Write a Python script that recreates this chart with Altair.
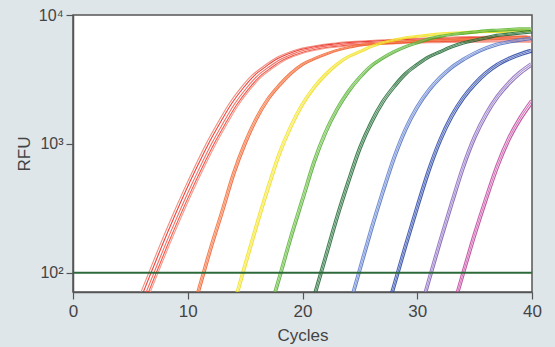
import altair as alt
import pandas as pd

# ---- data (RFU at integer cycles) ----
red_start = 5
red_rfu = [36, 60, 100, 166, 269, 427, 661, 1000, 1445, 2040, 2690, 3390, 3980, 4570,
           5010, 5370, 5620, 5820, 5960, 6100, 6170, 6240, 6310, 6370, 6430, 6490,
           6530, 6580, 6610, 6650, 6680, 6700, 6720, 6740, 6750, 6760]
orange_start = 10
orange_rfu = [37, 76, 155, 300, 590, 1020, 1590, 2240, 2880, 3550, 4170, 4600, 5000,
              5370, 5650, 5880, 6000, 6100, 6170, 6270, 6350, 6420, 6460, 6500, 6560,
              6600, 6650, 6700, 6750, 6800, 6850]
yellow_start = 13
yellow_rfu = [28, 56, 115, 234, 457, 851, 1380, 2040, 2750, 3470, 4170, 4790, 5250,
              5750, 6170, 6460, 6760, 6920, 7080, 7240, 7330, 7410, 7500, 7590, 7590,
              7670, 7760, 7760]
lgreen_start = 16
lgreen_rfu = [22, 46, 93, 191, 372, 724, 1230, 1860, 2570, 3310, 4070, 4680, 5250,
              5750, 6170, 6610, 6920, 7160, 7330, 7500, 7670, 7760, 7850, 7940, 7940]
dgreen_start = 19
dgreen_rfu = [15, 32, 65, 132, 269, 513, 933, 1480, 2140, 2820, 3550, 4170, 4790,
              5250, 5750, 6170, 6460, 6760, 7080, 7240, 7410, 7590]
lblue_start = 22
lblue_rfu = [13, 26, 52, 107, 219, 427, 794, 1320, 1950, 2630, 3310, 3980, 4570, 5130,
             5620, 6030, 6310, 6530, 6760]
dblue_start = 26
dblue_rfu = [19, 40, 81, 165, 326, 625, 1080, 1660, 2300, 2950, 3600, 4190, 4660,
             5060, 5410]
purple_start = 29
purple_rfu = [21, 42, 87, 177, 348, 667, 1140, 1720, 2370, 3020, 3660, 4250]
magenta_start = 32
magenta_rfu = [24, 49, 100, 200, 380, 690, 1120, 1620, 2190]

# replicate spread per group: cycle offsets and plateau factors
red_dx = [-0.4, -0.2, 0.05, 0.25, 0.4]
red_k = [1.02, 1.0, 0.97, 0.93, 0.91]
small_dx = [-0.12, 0.0, 0.12]
small_k = [1.0, 0.98, 0.96]

threshold = [100]

# replicate colours per group
red_cols = ["#f07a68", "#e8251c", "#f05545", "#ee3a2a", "#f28b7a"]
orange_cols = ["#f26a35", "#f47f4e", "#ee5a2a"]
yellow_cols = ["#f2e21e", "#f5ea55", "#eedc10"]
lgreen_cols = ["#5ab535", "#74c255", "#4aa828"]
dgreen_cols = ["#1e6b33", "#3a7f4a", "#1a6030"]
lblue_cols = ["#5a7ccc", "#7a94d6", "#4a6cc2"]
dblue_cols = ["#2a48a8", "#4860b4", "#20409e"]
purple_cols = ["#8867bd", "#9e85ca", "#7a58b2"]
magenta_cols = ["#c0449e", "#cc66b0", "#b83894"]

groups = [
    ("red", red_start, red_rfu, red_dx, red_k, red_cols),
    ("orange", orange_start, orange_rfu, small_dx, small_k, orange_cols),
    ("yellow", yellow_start, yellow_rfu, small_dx, small_k, yellow_cols),
    ("lgreen", lgreen_start, lgreen_rfu, small_dx, small_k, lgreen_cols),
    ("dgreen", dgreen_start, dgreen_rfu, small_dx, small_k, dgreen_cols),
    ("lblue", lblue_start, lblue_rfu, small_dx, small_k, lblue_cols),
    ("dblue", dblue_start, dblue_rfu, small_dx, small_k, dblue_cols),
    ("purple", purple_start, purple_rfu, small_dx, small_k, purple_cols),
    ("magenta", magenta_start, magenta_rfu, small_dx, small_k, magenta_cols),
]

rows = []
series_names = []
series_colors = []
for name, start, vals, dxs, ks, cols in groups:
    for r, (dx, k, col) in enumerate(zip(dxs, ks, cols)):
        sname = f"{name}_{r}"
        series_names.append(sname)
        series_colors.append(col)
        n = len(vals)
        for i, v in enumerate(vals):
            # plateau factor applied progressively toward the end of the curve
            f = 1 + (k - 1) * (i / (n - 1))
            rows.append({"cycle": start + i + dx, "rfu": v * f, "series": sname})
df = pd.DataFrame(rows)
df_t = pd.DataFrame({"t": threshold})

FONT = "Liberation Sans"

x_scale = alt.Scale(domain=[0, 40], nice=False, zero=False)
y_scale = alt.Scale(type="log", domain=[71, 10000], nice=False)

lines = alt.Chart(df).mark_line(strokeWidth=1.1, opacity=0.85, clip=True,
                                interpolate="monotone").encode(
    x=alt.X("cycle:Q", scale=x_scale,
            axis=alt.Axis(title="Cycles", values=[0, 10, 20, 30, 40], grid=False,
                          tickSize=7, labelPadding=4, titlePadding=8,
                          labelFontSize=17, labelFlush=False)),
    y=alt.Y("rfu:Q", scale=y_scale,
            axis=alt.Axis(title="RFU", values=[100, 1000, 10000], grid=False,
                          tickSize=7, labelPadding=3, titlePadding=5,
                          labelFontSize=16, labelFlush=False,
                          labelExpr="datum.value == 100 ? '10²' : datum.value == 1000 ? '10³' : '10⁴'")),
    color=alt.Color("series:N", scale=alt.Scale(domain=series_names, range=series_colors),
                    legend=None),
)

rule = alt.Chart(df_t).mark_rule(color="#2d6a3a", strokeWidth=2).encode(
    y=alt.Y("t:Q", scale=y_scale)
)

chart = alt.layer(lines, rule).properties(
    width=459, height=277,
    background="#dfe6e9",
    padding={"left": 73, "top": 15, "right": 23, "bottom": 55},
    autosize=alt.AutoSizeParams(type="none"),
).configure_view(
    fill="white", stroke="#555555", strokeWidth=1.5
).configure_axis(
    domainColor="#555555", domainWidth=1.5, tickColor="#555555", tickWidth=1.2,
    labelFont=FONT, titleFont=FONT, titleFontSize=17,
    labelColor="#444444", titleColor="#444444", titleFontWeight="normal",
)

chart.save("out.html", embed_options={"renderer": "svg", "actions": False})
